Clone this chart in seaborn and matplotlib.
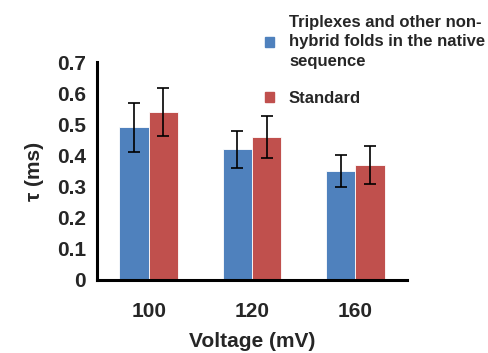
import pandas as pd
import seaborn as sns
import matplotlib.pyplot as plt
import numpy as np

# Dados
voltagens = ['100', '120', '160']
series = ['Triplexes and other non-\nhybrid folds in the native\nsequence', 'Standard']
tau_triplex = [0.49, 0.42, 0.35]
tau_padrao = [0.54, 0.46, 0.37]
erro_triplex = [0.08, 0.06, 0.05]
erro_padrao = [0.078, 0.067, 0.061]
cores = ['#4F81BD', '#C0504D']

dados = pd.DataFrame({
    'voltagem': voltagens * 2,
    'serie': [series[0]] * 3 + [series[1]] * 3,
    'tau': tau_triplex + tau_padrao,
})

sns.set_style('white')
plt.rcParams['font.family'] = ['Liberation Sans', 'DejaVu Sans']
plt.rcParams['font.weight'] = 'bold'

fig = plt.figure(figsize=(4.88, 3.53), dpi=100)
ax = fig.add_axes([0.199, 0.207, 0.635, 0.617])

sns.barplot(data=dados, x='voltagem', y='tau', hue='serie', palette=cores,
            width=0.57, gap=0, linewidth=0.6, edgecolor='white', saturation=1,
            legend=False, ax=ax)

# Barras de erro a partir das posições das barras
for cont, erros in zip(ax.containers, [erro_triplex, erro_padrao]):
    xs = [b.get_x() + b.get_width() / 2 for b in cont]
    ys = [b.get_height() for b in cont]
    ax.errorbar(xs, ys, yerr=erros, fmt='none', ecolor='black', elinewidth=1.2,
                capsize=4, capthick=1.2)

ax.set_xlim(-0.5, 2.5)
ax.set_ylim(0, 0.7)
ax.set_yticks(np.arange(0, 0.71, 0.1))
ax.set_yticklabels(['0'] + [f'{v:.1f}' for v in np.arange(0.1, 0.71, 0.1)])
ax.set_xticks([-0.5, 0.5, 1.5, 2.5], minor=True)
ax.tick_params(axis='x', which='major', length=0, labelsize=15, pad=16)
ax.tick_params(axis='x', which='minor', length=5, width=2, direction='out', color='black')
ax.tick_params(axis='y', length=5, width=2, direction='out', labelsize=15, color='black', pad=3)
for lab in ax.get_xticklabels() + ax.get_yticklabels():
    lab.set_fontweight('bold')

ax.set_xlabel('Voltage (mV)', fontsize=15, fontweight='bold', labelpad=8)
ax.set_ylabel('τ (ms)', fontsize=15, fontweight='bold', labelpad=9)

sns.despine(ax=ax)
for lado in ['left', 'bottom']:
    ax.spines[lado].set_linewidth(2.2)
    ax.spines[lado].set_color('black')

# Legenda fora do gráfico
handles = [plt.Rectangle((0, 0), 1, 1, color=c) for c in cores]
leg = fig.legend(handles, series, loc='upper left', bbox_to_anchor=(0.512, 1.0),
                 frameon=False, prop={'size': 12, 'weight': 'bold'},
                 handlelength=0.55, handleheight=0.55, handletextpad=0.9,
                 labelspacing=1.3)
for t in leg.get_texts():
    t.set_linespacing(1.37)

fig.savefig('out.png', dpi=100)
